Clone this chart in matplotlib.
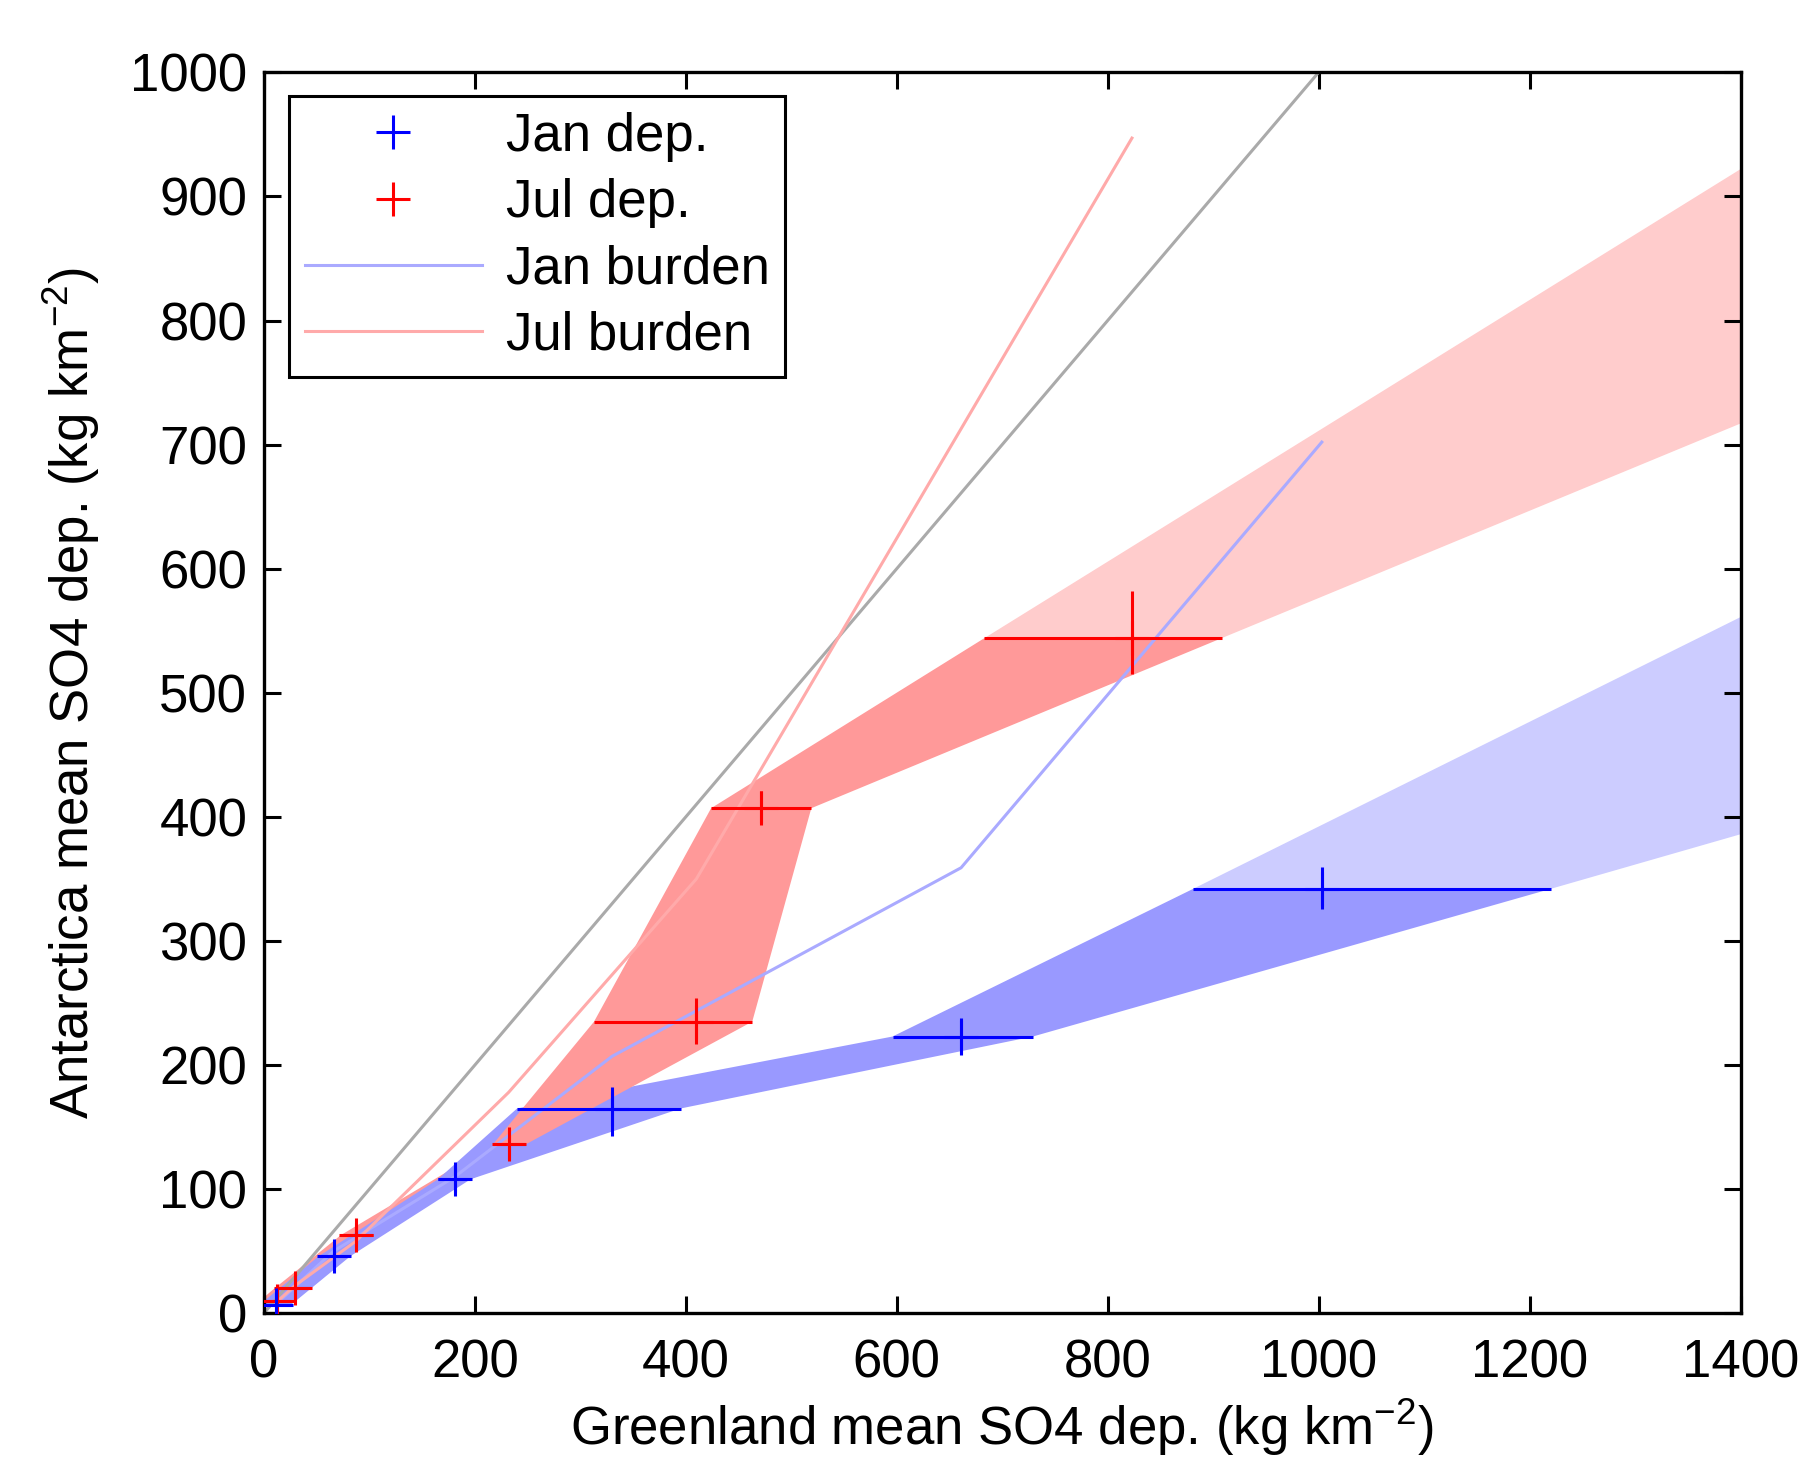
import matplotlib
matplotlib.use('Agg')
import matplotlib.pyplot as plt
from matplotlib.lines import Line2D

plt.rcParams['font.family'] = ['Liberation Sans', 'DejaVu Sans']
plt.rcParams['mathtext.fontset'] = 'custom'
plt.rcParams['mathtext.rm'] = 'Liberation Sans'
plt.rcParams['mathtext.it'] = 'Liberation Sans:italic'
plt.rcParams['mathtext.bf'] = 'Liberation Sans:bold'

# ---- data ----
# January deposition: centre, horizontal range, vertical range
jan_x = [11, 66, 181, 330, 661, 1003]
jan_xlo = [-4, 52, 165, 240, 596, 881]
jan_xhi = [26, 82, 196, 395, 729, 1220]
jan_y = [7, 46, 108, 165, 223, 342]
jan_ylo = [-3, 38, 98, 143, 208, 326]
jan_yhi = [17, 54, 118, 182, 238, 360]

# July deposition
jul_x = [12, 29, 87, 232, 410, 471, 823]
jul_xlo = [-4, 10, 73, 217, 313, 424, 683]
jul_xhi = [26, 44, 103, 248, 463, 519, 908]
jul_y = [10, 20, 63, 136, 235, 407, 544]
jul_ylo = [0, 10, 53, 124, 217, 395, 515]
jul_yhi = [21, 31, 73, 148, 254, 421, 582]

# extrapolated band end values at x = 1400 (upper, lower)
jan_ext = [561, 386]
jul_ext = [922, 717]
ext_x = 1400

# burden curves
janb_x = [11, 66, 181, 330, 661, 1003]
janb_y = [7, 50, 110, 207, 359, 702]
julb_x = [12, 29, 87, 232, 410, 471, 823]
julb_y = [9, 22, 58, 178, 350, 438, 947]

# 1:1 line
one_x = [0, 1000]
one_y = [0, 1000]

xticks = [0, 200, 400, 600, 800, 1000, 1200, 1400]
yticks = [0, 100, 200, 300, 400, 500, 600, 700, 800, 900, 1000]

# ---- colours ----
C_JAN = '#0000FF'
C_JUL = '#FF0000'
C_JAN_DARK = '#9999FF'
C_JAN_LIGHT = '#CCCCFF'
C_JUL_DARK = '#FF9999'
C_JUL_LIGHT = '#FFCCCC'
C_JAN_BURDEN = '#AAAAFF'
C_JUL_BURDEN = '#FFAAAA'
C_ONE = '#AAAAAA'

FS = 38
LW = 2.2

fig = plt.figure(figsize=(17.99, 14.67), dpi=100)
ax = fig.add_axes([0.1467, 0.1048, 0.8208, 0.8459])


def seg(xlo, xhi, y, i, color, z):
    ax.fill([xlo[i], xlo[i + 1], xhi[i + 1], xhi[i]],
            [y[i], y[i + 1], y[i + 1], y[i]],
            color=color, lw=0, zorder=z)


def ext(xlo, xhi, y, e, color, z):
    ax.fill([xlo[-1], ext_x, ext_x, xhi[-1]],
            [y[-1], e[0], e[1], y[-1]],
            color=color, lw=0, zorder=z)


# drawing order of band segments
order = [('r', 0), ('r', 1), ('r', 2), ('b', 0), ('b', 1), ('b', 2), ('b', 3),
         ('r', 3), ('r', 4), ('r', 5), ('b', 4)]
z = 1.0
for c, i in order:
    if c == 'r':
        seg(jul_xlo, jul_xhi, jul_y, i, C_JUL_DARK, z)
    else:
        seg(jan_xlo, jan_xhi, jan_y, i, C_JAN_DARK, z)
    z += 0.01
ext(jul_xlo, jul_xhi, jul_y, jul_ext, C_JUL_LIGHT, 0.9)
ext(jan_xlo, jan_xhi, jan_y, jan_ext, C_JAN_LIGHT, 0.9)

# lines
ax.plot(one_x, one_y, color=C_ONE, lw=LW, zorder=2)
ax.plot(janb_x, janb_y, color=C_JAN_BURDEN, lw=LW, zorder=2.1)
ax.plot(julb_x, julb_y, color=C_JUL_BURDEN, lw=LW, zorder=2.1)


def crosses(x, xlo, xhi, y, ylo, yhi, color, zz):
    xerr = [[a - b for a, b in zip(x, xlo)], [b - a for a, b in zip(x, xhi)]]
    yerr = [[a - b for a, b in zip(y, ylo)], [b - a for a, b in zip(y, yhi)]]
    ax.errorbar(x, y, xerr=xerr, yerr=yerr, fmt='+', color=color, ms=24,
                mew=LW, elinewidth=LW, capsize=0, zorder=zz)


crosses(jul_x, jul_xlo, jul_xhi, jul_y, jul_ylo, jul_yhi, C_JUL, 3)
crosses(jan_x, jan_xlo, jan_xhi, jan_y, jan_ylo, jan_yhi, C_JAN, 3.1)

ax.set_xlim(0, 1400)
ax.set_ylim(0, 1000)
ax.set_xticks(xticks)
ax.set_yticks(yticks)
ax.tick_params(direction='in', length=12, width=2.2, top=True, right=True,
               labelsize=FS)
ax.tick_params(axis='x', pad=18)
ax.tick_params(axis='y', pad=12)
for s in ax.spines.values():
    s.set_linewidth(2.4)

ax.set_xlabel(r'Greenland mean SO4 dep. (kg km$^{-2}$)', fontsize=FS, labelpad=6)
ax.set_ylabel(r'Antarctica mean SO4 dep. (kg km$^{-2}$)', fontsize=FS, labelpad=20)

handles = [
    Line2D([], [], ls='none', marker='+', color=C_JAN, ms=24, mew=LW),
    Line2D([], [], ls='none', marker='+', color=C_JUL, ms=24, mew=LW),
    Line2D([], [], color=C_JAN_BURDEN, lw=LW),
    Line2D([], [], color=C_JUL_BURDEN, lw=LW),
]
labels = ['Jan dep.', 'Jul dep.', 'Jan burden', 'Jul burden']
leg = ax.legend(handles, labels, loc='upper left', bbox_to_anchor=(0.0171, 0.981),
                fontsize=FS, handlelength=3.35, handletextpad=0.45,
                labelspacing=0.31, borderpad=0.3, borderaxespad=0,
                fancybox=False, edgecolor='black', framealpha=1)
leg.get_frame().set_linewidth(2.2)

fig.savefig('out.png', dpi=100)
